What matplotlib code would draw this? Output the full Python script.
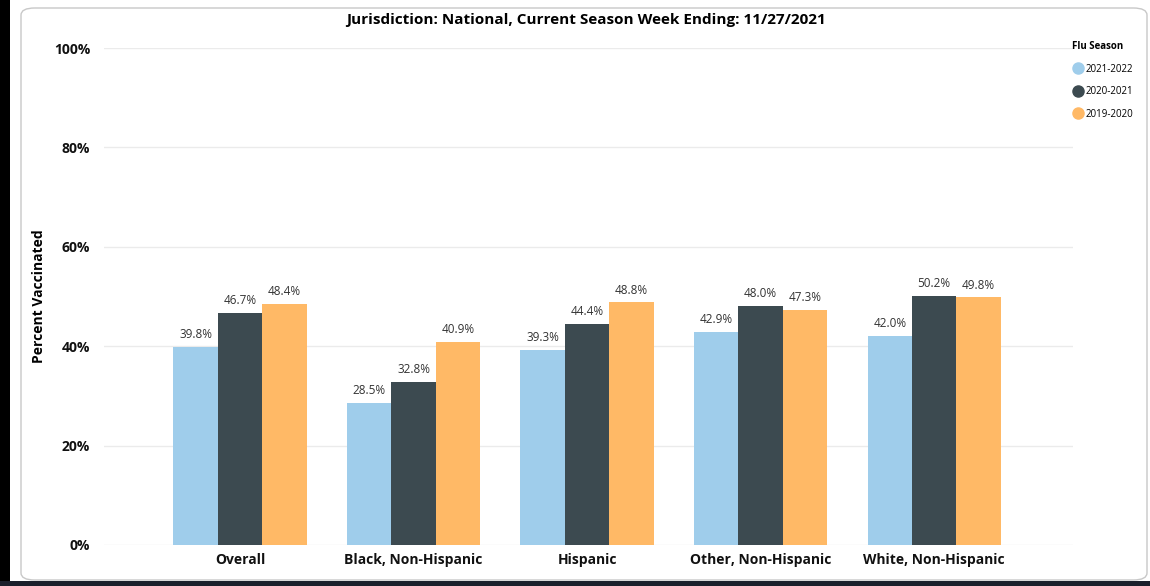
import matplotlib
matplotlib.use("Agg")
import matplotlib.pyplot as plt
from matplotlib.patches import FancyBboxPatch, Rectangle
from matplotlib.lines import Line2D
import numpy as np

categories = ["Overall", "Black, Non-Hispanic", "Hispanic", "Other, Non-Hispanic", "White, Non-Hispanic"]
seasons = ["2021-2022", "2020-2021", "2019-2020"]
s2021 = [39.8, 28.5, 39.3, 42.9, 42.0]
s2020 = [46.7, 32.8, 44.4, 48.0, 50.2]
s2019 = [48.4, 40.9, 48.8, 47.3, 49.8]
colors = ["#9fcdeb", "#3c4a50", "#ffb966"]

plt.rcParams['font.family'] = ['Open Sans', 'DejaVu Sans']

fig = plt.figure(figsize=(11.5, 5.86), dpi=100)

# background frame
fig.patches.append(Rectangle((0, 0), 10 / 1150, 1, transform=fig.transFigure,
                             facecolor="black", edgecolor="none", zorder=-2))
fig.patches.append(Rectangle((0, 0), 1, 5 / 586, transform=fig.transFigure,
                             facecolor="#1a1f2b", edgecolor="none", zorder=-2))
fig.patches.append(FancyBboxPatch((21 / 1150, 6 / 586), 1126 / 1150, 572 / 586,
                                  boxstyle="round,pad=0,rounding_size=0.012",
                                  transform=fig.transFigure, facecolor="white",
                                  edgecolor="#c8c8c8", linewidth=1, zorder=-1))

ax = fig.add_axes([104 / 1150, 41 / 586, 969 / 1150, 497 / 586])
ax.set_facecolor("none")
ax.set_zorder(1)

x = np.arange(len(categories))
w = 0.256
for i, vals in enumerate([s2021, s2020, s2019]):
    bars = ax.bar(x + (i - 1) * w, vals, width=w, color=colors[i], zorder=3)
    for b, v in zip(bars, vals):
        ax.text(b.get_x() + b.get_width() / 2, v + 1.2, f"{v:.1f}%", ha="center",
                va="bottom", fontsize=8.5, color="#333333")

ax.set_ylim(0, 100)
ax.set_xlim(-0.784, 4.80)
ax.set_yticks([0, 20, 40, 60, 80, 100])
ax.set_yticklabels(["0%", "20%", "40%", "60%", "80%", "100%"], fontweight="bold", fontsize=10)
ax.set_xticks(x)
ax.set_xticklabels(categories, fontweight="bold", fontsize=10)
ax.tick_params(length=0, pad=10, colors="#111111")
ax.tick_params(axis="x", pad=6)
ax.grid(axis="y", color="#ebebeb", linewidth=1, zorder=0)
for s in ax.spines.values():
    s.set_visible(False)
ax.set_ylabel("Percent Vaccinated", fontweight="bold", fontsize=10, labelpad=6)

fig.text(586 / 1150, 1 - 20 / 586, "Jurisdiction: National, Current Season Week Ending: 11/27/2021",
         ha="center", va="center", fontweight="bold", fontsize=11)

handles = [Line2D([], [], marker="o", linestyle="none", markersize=8,
                  markerfacecolor=c, markeredgecolor=c) for c in colors]
leg = fig.legend(handles, seasons, title="Flu Season", loc="upper left",
                 bbox_to_anchor=(1067 / 1150, 1 - 36 / 586), frameon=False,
                 fontsize=7, title_fontproperties={"weight": "bold", "size": 7},
                 handletextpad=0.2, labelspacing=1.2, handlelength=1.2,
                 borderpad=0, alignment="left")

fig.savefig("out.png", dpi=100)
